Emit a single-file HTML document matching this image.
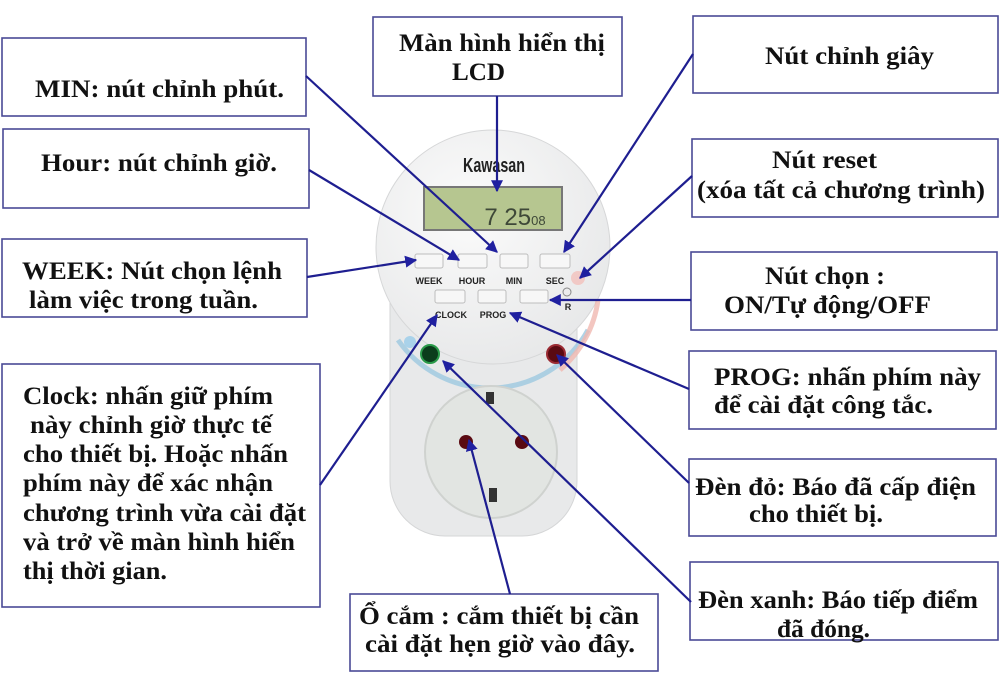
<!DOCTYPE html>
<html><head><meta charset="utf-8"><style>
html,body{margin:0;padding:0;background:#fff;width:1000px;height:688px;overflow:hidden}
svg text.t{font-family:"Liberation Serif",serif;font-weight:bold;font-size:25px;fill:#111}
svg text.s{font-family:"Liberation Sans",sans-serif;font-weight:bold;font-size:9px;fill:#222}
</style></head><body>
<svg width="1000" height="688" viewBox="0 0 1000 688" xmlns="http://www.w3.org/2000/svg">
<defs>
<marker id="a" markerWidth="12" markerHeight="12" refX="9" refY="5" orient="auto" markerUnits="userSpaceOnUse" viewBox="0 0 10 10">
<path d="M0,0 L10,5 L0,10 z" fill="#2020a0"/></marker>
<radialGradient id="body" cx="0.4" cy="0.35" r="0.8"><stop offset="0" stop-color="#fbfbfb"/><stop offset="1" stop-color="#e4e5e6"/></radialGradient>
</defs>
<!-- device -->
<rect x="390" y="230" width="187" height="306" rx="55" fill="#e8e9ea" stroke="#d5d6d7"/>
<circle cx="493" cy="247" r="117" fill="url(#body)" stroke="#d6d7d8"/>
<path d="M398,340 A112,112 0 0 0 588,330" fill="none" stroke="#9cc8e0" stroke-width="5" opacity="0.8"/>
<path d="M560,370 A112,112 0 0 0 598,300" fill="none" stroke="#f0b8b0" stroke-width="5" opacity="0.8"/>
<circle cx="410" cy="342" r="6" fill="#a9d2ea"/>
<text x="494" y="172" text-anchor="middle" font-family="Liberation Sans,sans-serif" font-size="20" fill="#222" font-weight="bold" textLength="62" lengthAdjust="spacingAndGlyphs">Kawasan</text>
<rect x="424" y="187" width="138" height="43" fill="#b6c690" stroke="#777" stroke-width="2"/>
<text x="515" y="225" text-anchor="middle" font-family="Liberation Sans,sans-serif" font-size="24" fill="#3e4838">7 25<tspan font-size="13">08</tspan></text>
<g fill="#f7f7f7" stroke="#bdbdbd">
<rect x="415" y="254" width="28" height="14" rx="2"/><rect x="458" y="254" width="29" height="14" rx="2"/>
<rect x="500" y="254" width="28" height="14" rx="2"/><rect x="540" y="254" width="30" height="14" rx="2"/>
<rect x="435" y="290" width="30" height="13" rx="2"/><rect x="478" y="290" width="28" height="13" rx="2"/>
<rect x="520" y="290" width="28" height="13" rx="2"/></g>
<text class="s" x="429" y="284" text-anchor="middle">WEEK</text>
<text class="s" x="472" y="284" text-anchor="middle">HOUR</text>
<text class="s" x="514" y="284" text-anchor="middle">MIN</text>
<text class="s" x="555" y="284" text-anchor="middle">SEC</text>
<text class="s" x="451" y="318" text-anchor="middle">CLOCK</text>
<text class="s" x="493" y="318" text-anchor="middle">PROG</text>
<text class="s" x="568" y="310" text-anchor="middle">R</text>
<circle cx="567" cy="292" r="4" fill="none" stroke="#888"/>
<circle cx="578" cy="278" r="7" fill="#f3c0bc" opacity="0.8"/>
<circle cx="430" cy="354" r="9" fill="#0b3d1c" stroke="#2a9a4a" stroke-width="2"/>
<circle cx="556" cy="354" r="9" fill="#5a0a12" stroke="#9a2a32" stroke-width="2"/>
<circle cx="491" cy="452" r="66" fill="#e2e5e2" stroke="#cfd2cf" stroke-width="2"/>
<rect x="486" y="392" width="8" height="12" fill="#333"/>
<rect x="489" y="488" width="8" height="14" fill="#333"/>
<circle cx="466" cy="442" r="7" fill="#5a0a12"/>
<circle cx="522" cy="442" r="7" fill="#5a0a12"/>
<!-- boxes -->
<g fill="#fff" stroke="#4a4a96" stroke-width="1.6">
<rect x="2" y="38" width="304" height="78"/>
<rect x="373" y="17" width="249" height="79"/>
<rect x="693" y="16" width="305" height="77"/>
<rect x="3" y="129" width="306" height="79"/>
<rect x="692" y="139" width="306" height="78"/>
<rect x="2" y="239" width="305" height="78"/>
<rect x="691" y="252" width="306" height="78"/>
<rect x="2" y="364" width="318" height="243"/>
<rect x="689" y="351" width="307" height="78"/>
<rect x="689" y="459" width="307" height="77"/>
<rect x="690" y="562" width="308" height="78"/>
<rect x="350" y="594" width="308" height="77"/>
</g>
<!-- arrows -->
<g stroke="#1e1e90" stroke-width="2.2" fill="none" marker-end="url(#a)">
<line x1="306" y1="76" x2="497" y2="252"/>
<line x1="497" y1="96" x2="497" y2="191"/>
<line x1="309" y1="170" x2="459" y2="260"/>
<line x1="307" y1="277" x2="416" y2="260"/>
<line x1="693" y1="54" x2="564" y2="252"/>
<line x1="692" y1="176" x2="580" y2="278"/>
<line x1="691" y1="300" x2="550" y2="300"/>
<line x1="689" y1="389" x2="510" y2="313"/>
<line x1="320" y1="485" x2="437" y2="315"/>
<line x1="689" y1="483" x2="557" y2="355"/>
<line x1="691" y1="602" x2="443" y2="361"/>
<line x1="510" y1="594" x2="469" y2="440"/>
</g>
<!-- text -->
<text class="t" x="399" y="51" textLength="206" lengthAdjust="spacingAndGlyphs">Màn hình hiển thị</text>
<text class="t" x="452" y="80" textLength="53" lengthAdjust="spacingAndGlyphs">LCD</text>
<text class="t" x="765" y="64" textLength="169" lengthAdjust="spacingAndGlyphs">Nút chỉnh giây</text>
<text class="t" x="35" y="97" textLength="249" lengthAdjust="spacingAndGlyphs">MIN: nút chỉnh phút.</text>
<text class="t" x="41" y="171" textLength="236" lengthAdjust="spacingAndGlyphs">Hour: nút chỉnh giờ.</text>
<text class="t" x="772" y="168" textLength="105" lengthAdjust="spacingAndGlyphs">Nút reset</text>
<text class="t" x="697" y="198" textLength="288" lengthAdjust="spacingAndGlyphs">(xóa tất cả chương trình)</text>
<text class="t" x="22" y="279" textLength="260" lengthAdjust="spacingAndGlyphs">WEEK: Nút chọn lệnh</text>
<text class="t" x="29" y="308" textLength="229" lengthAdjust="spacingAndGlyphs">làm việc trong tuần.</text>
<text class="t" x="765" y="284" textLength="120" lengthAdjust="spacingAndGlyphs">Nút chọn :</text>
<text class="t" x="724" y="313" textLength="207" lengthAdjust="spacingAndGlyphs">ON/Tự động/OFF</text>
<text class="t" x="23" y="404" textLength="250" lengthAdjust="spacingAndGlyphs">Clock: nhấn giữ phím</text>
<text class="t" x="30" y="433" textLength="242" lengthAdjust="spacingAndGlyphs">này chỉnh giờ thực tế</text>
<text class="t" x="23" y="462" textLength="265" lengthAdjust="spacingAndGlyphs">cho thiết bị. Hoặc nhấn</text>
<text class="t" x="23" y="491" textLength="250" lengthAdjust="spacingAndGlyphs">phím này để xác nhận</text>
<text class="t" x="23" y="521" textLength="283" lengthAdjust="spacingAndGlyphs">chương trình vừa cài đặt</text>
<text class="t" x="23" y="550" textLength="272" lengthAdjust="spacingAndGlyphs">và trở về màn hình hiển</text>
<text class="t" x="23" y="579" textLength="144" lengthAdjust="spacingAndGlyphs">thị thời gian.</text>
<text class="t" x="714" y="385" textLength="267" lengthAdjust="spacingAndGlyphs">PROG: nhấn phím này</text>
<text class="t" x="714" y="413" textLength="219" lengthAdjust="spacingAndGlyphs">để cài đặt công tắc.</text>
<text class="t" x="695" y="495" textLength="281" lengthAdjust="spacingAndGlyphs">Đèn đỏ: Báo đã cấp điện</text>
<text class="t" x="749" y="522" textLength="134" lengthAdjust="spacingAndGlyphs">cho thiết bị.</text>
<text class="t" x="698" y="608" textLength="280" lengthAdjust="spacingAndGlyphs">Đèn xanh: Báo tiếp điểm</text>
<text class="t" x="777" y="637" textLength="93" lengthAdjust="spacingAndGlyphs">đã đóng.</text>
<text class="t" x="359" y="624" textLength="280" lengthAdjust="spacingAndGlyphs">Ổ cắm : cắm thiết bị cần</text>
<text class="t" x="365" y="652" textLength="270" lengthAdjust="spacingAndGlyphs">cài đặt hẹn giờ vào đây.</text>
</svg>
</body></html>
